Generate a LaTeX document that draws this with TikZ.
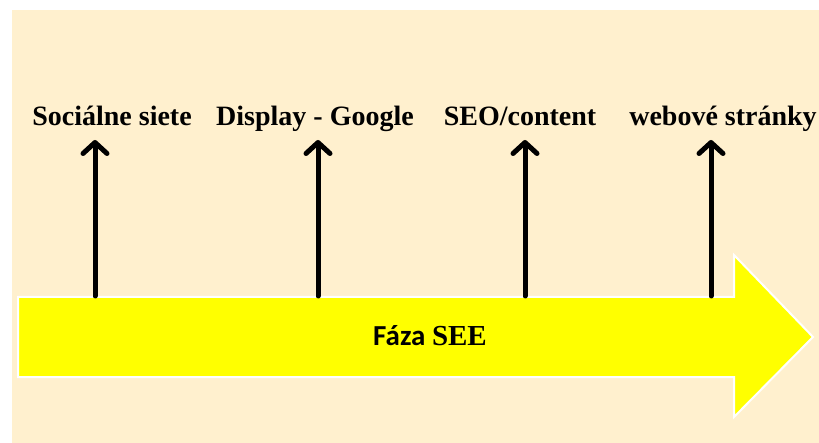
\documentclass[tikz,border=0pt]{standalone}
\usepackage{fontspec}
\setmainfont{Liberation Serif}
\newfontfamily\phasefont{Carlito}
\usetikzlibrary{arrows.meta}
\definecolor{cream}{HTML}{FFF0CE}
\definecolor{phaseyellow}{HTML}{FFFF00}
\tikzset{
  channel/.style={font=\fontsize{28bp}{32bp}\selectfont\bfseries, inner sep=0pt, anchor=base},
  pointer/.style={line width=5bp, line cap=round,
    -{Straight Barb[length=11bp, width=24bp, line cap=round, line join=round]}},
}
\begin{document}
\begin{tikzpicture}[x=1bp, y=-1bp]
  \useasboundingbox (0,0) rectangle (819,443);
  % background panel
  \fill[cream] (12,10) rectangle (819,443);
  % phase arrow
  \filldraw[fill=phaseyellow, draw=white, line width=2bp]
    (18,297) -- (734,297) -- (734,255) -- (813,337) -- (734,417) -- (734,377) -- (18,377) -- cycle;
  \node[inner sep=0pt] (phase) at (430,336)
    {\fontsize{29bp}{34bp}\selectfont\bfseries\phasefont Fáza \rmfamily SEE};
  % channel labels
  \node[channel] (l1) at (112,126) {Sociálne siete};
  \node[channel] (l2) at (315,126) {Display - Google};
  \node[channel] (l3) at (520,126) {SEO/content};
  \node[channel] (l4) at (723,126) {webové stránky};
  % arrow bases and tips
  \foreach \i/\x in {1/95, 2/318, 3/525, 4/711} {
    \coordinate (b\i) at (\x,296);
    \coordinate (t\i) at (\x,140);
    \draw[pointer] (b\i) -- (t\i);
  }
\end{tikzpicture}
\end{document}
